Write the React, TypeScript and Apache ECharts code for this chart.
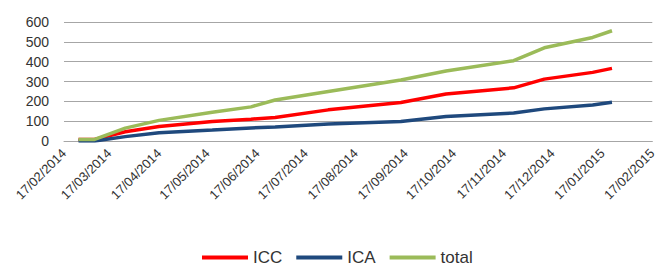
import React, { useEffect, useRef } from "react";
import * as echarts from "echarts";

const dates = [
  "2014-02-26", "2014-03-08", "2014-03-27", "2014-04-17", "2014-05-20",
  "2014-06-13", "2014-06-28", "2014-07-31", "2014-09-14", "2014-10-12",
  "2014-11-23", "2014-12-12", "2015-01-11", "2015-01-23",
];
const icc = [8, 8, 47, 73, 98, 110, 118, 157, 194, 237, 268, 312, 346, 366];
const ica = [0, 0, 22, 42, 55, 66, 71, 86, 98, 124, 141, 162, 182, 195];
const total = [7, 8, 65, 104, 145, 172, 207, 250, 308, 353, 405, 470, 522, 556];

const tickDates = [
  "2014-02-17", "2014-03-17", "2014-04-17", "2014-05-17", "2014-06-17",
  "2014-07-17", "2014-08-17", "2014-09-17", "2014-10-17", "2014-11-17",
  "2014-12-17", "2015-01-17", "2015-02-17",
];

const toTs = (s: string) => {
  const [y, m, d] = s.split("-").map(Number);
  return Date.UTC(y, m - 1, d);
};
const pad = (n: number) => (n < 10 ? "0" + n : "" + n);
const fmt = (v: number) => {
  const d = new Date(v);
  return pad(d.getUTCDate()) + "/" + pad(d.getUTCMonth() + 1) + "/" + d.getUTCFullYear();
};

export default function App() {
  const ref = useRef<HTMLDivElement>(null);
  useEffect(() => {
    if (!ref.current) return;
    const chart = echarts.init(ref.current, null, { renderer: "svg" });
    const ticks = tickDates.map(toTs);
    const mk = (vals: number[]) => dates.map((d, i) => [toTs(d), vals[i]]);
    const font = "'Liberation Sans', Arial, sans-serif";
    chart.setOption({
      animation: false,
      textStyle: { fontFamily: font },
      grid: { left: 64, right: 2, top: 22, bottom: 126, containLabel: false },
      legend: {
        top: 249,
        left: 202,
        padding: 0,
        itemWidth: 46,
        itemHeight: 4,
        itemGap: 14,
        icon: "rect",
        textStyle: { fontSize: 17, color: "#333333", fontFamily: font, lineHeight: 17 },
        data: ["ICC", "ICA", "total"],
      },
      xAxis: {
        type: "value",
        min: ticks[0],
        max: ticks[ticks.length - 1],
        axisLine: { show: true, lineStyle: { color: "#A6A6A6", width: 1 } },
        axisTick: { show: false },
        splitLine: { show: false },
        axisLabel: {
          customValues: ticks,
          rotate: 45,
          fontSize: 13,
          color: "#333333",
          fontFamily: font,
          margin: 10,
          hideOverlap: false,
          showMinLabel: true,
          showMaxLabel: true,
          formatter: (v: number) => fmt(v),
        },
      },
      yAxis: {
        type: "value",
        min: 0,
        max: 600,
        interval: 100,
        axisLine: { show: false },
        axisTick: { show: false },
        splitLine: { lineStyle: { color: "#A6A6A6", width: 1 } },
        axisLabel: { fontSize: 14, color: "#333333", fontFamily: font, margin: 15 },
      },
      series: [
        { name: "ICC", type: "line", data: mk(icc), showSymbol: false, symbol: "none", lineStyle: { color: "#FF0000", width: 3.5 }, itemStyle: { color: "#FF0000" } },
        { name: "ICA", type: "line", data: mk(ica), showSymbol: false, symbol: "none", lineStyle: { color: "#1F497D", width: 3.5 }, itemStyle: { color: "#1F497D" } },
        { name: "total", type: "line", data: mk(total), showSymbol: false, symbol: "none", lineStyle: { color: "#9BBB59", width: 3.5 }, itemStyle: { color: "#9BBB59" } },
      ],
    });
    return () => chart.dispose();
  }, []);
  return <div ref={ref} style={{ position: "absolute", left: 0, top: 0, width: 659, height: 267 }} />;
}
